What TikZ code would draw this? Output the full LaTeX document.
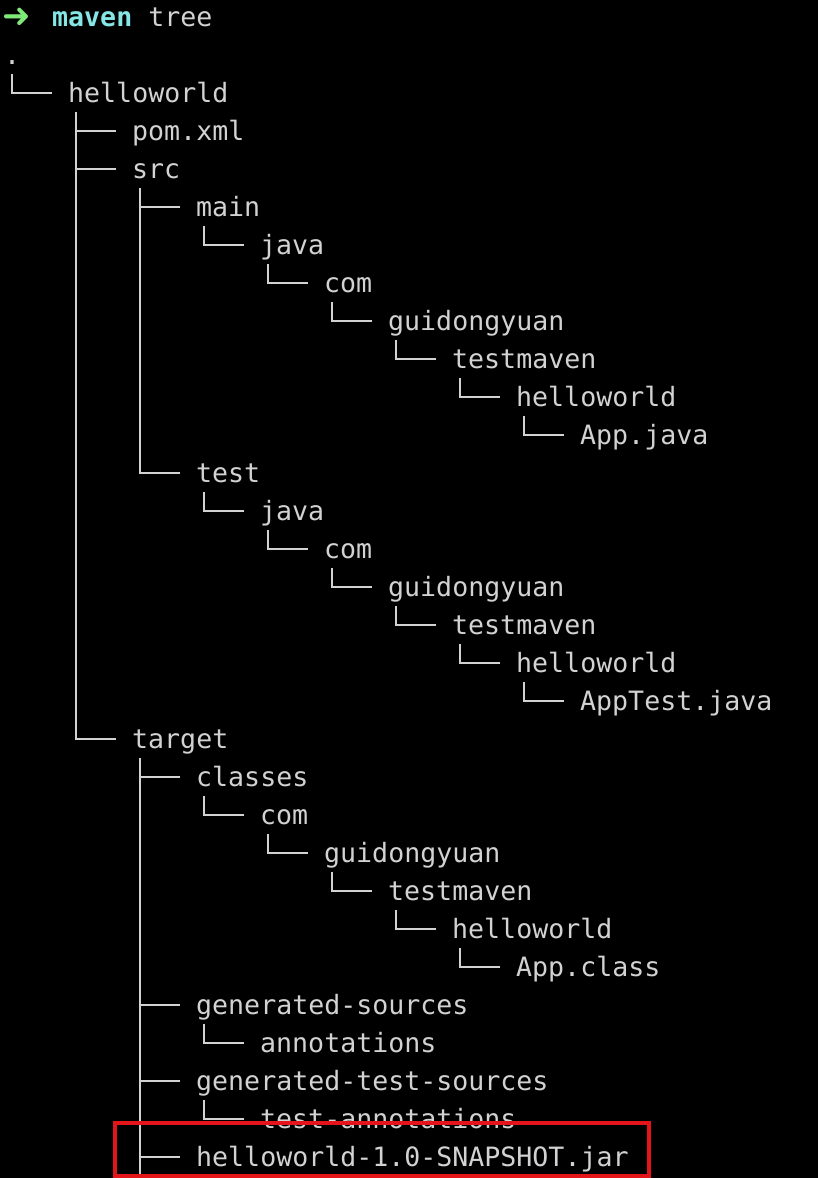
\documentclass[tikz,border=0pt]{standalone}
\usepackage{fontspec}
\usepackage{xcolor}
\usepackage{tikz}
\usetikzlibrary{positioning}
\newfontfamily\termfont{DejaVu Sans Mono}
\newfontfamily\arrowfont{DejaVu Sans}
\definecolor{termgray}{HTML}{D2D2D2}
\definecolor{termcyan}{HTML}{86E6E6}
\definecolor{termgreen}{HTML}{7EE878}
\definecolor{markred}{HTML}{E3151B}
\tikzstyle{entry} = [anchor=west, inner sep=0pt, text height=28pt, text depth=10pt, text=termgray, font={\termfont\fontsize{26.6pt}{38pt}\selectfont}]
\tikzstyle{branch} = [line width=1.6pt, termgray]
\tikzstyle{markbox} = [rectangle, draw=markred, line width=4pt, inner sep=0pt]

\begin{document}
\begin{tikzpicture}[x=1pt, y=-1pt]
    \fill [black] (0,0) rectangle (818,1178);
    \useasboundingbox (0,0) rectangle (818,1178);
    % prompt line
    \node (prompt) [entry, text=termgreen, font={\arrowfont\fontsize{34pt}{38pt}\selectfont}] at (2,18) {➜};
    \node (cmd) [entry] at (52,17) {{\bfseries\color{termcyan}maven} tree};
    % tree
    \node (root) [entry] at (4,55) {.};
    \node (hw) [entry] at (68,93) {helloworld};
    \node (pom) [entry] at (132,131) {pom.xml};
    \node (src) [entry] at (132,169) {src};
    \node (main) [entry] at (196,207) {main};
    \node (mjava) [entry] at (260,245) {java};
    \node (mcom) [entry] at (324,283) {com};
    \node (mgdy) [entry] at (388,321) {guidongyuan};
    \node (mtm) [entry] at (452,359) {testmaven};
    \node (mhw) [entry] at (516,397) {helloworld};
    \node (app) [entry] at (580,435) {App.java};
    \node (test) [entry] at (196,473) {test};
    \node (tjava) [entry] at (260,511) {java};
    \node (tcom) [entry] at (324,549) {com};
    \node (tgdy) [entry] at (388,587) {guidongyuan};
    \node (ttm) [entry] at (452,625) {testmaven};
    \node (thw) [entry] at (516,663) {helloworld};
    \node (apptest) [entry] at (580,701) {AppTest.java};
    \node (target) [entry] at (132,739) {target};
    \node (classes) [entry] at (196,777) {classes};
    \node (ccom) [entry] at (260,815) {com};
    \node (cgdy) [entry] at (324,853) {guidongyuan};
    \node (ctm) [entry] at (388,891) {testmaven};
    \node (chw) [entry] at (452,929) {helloworld};
    \node (appclass) [entry] at (516,967) {App.class};
    \node (gens) [entry] at (196,1005) {generated-sources};
    \node (annot) [entry] at (260,1043) {annotations};
    \node (gents) [entry] at (196,1081) {generated-test-sources};
    \node (tannot) [entry] at (260,1119) {test-annotations};
    \node (jar) [entry] at (196,1157) {helloworld-1.0-SNAPSHOT.jar};
    \coordinate (more) at (140,1178);
    % branches
    \draw [branch] ([xshift=8pt]root.south west) |- ([xshift=-16pt]hw.west);
    \draw [branch] ([xshift=8pt]hw.south west) |- ([xshift=-16pt]pom.west);
    \draw [branch] ([xshift=8pt]hw.south west) |- ([xshift=-16pt]src.west);
    \draw [branch] ([xshift=8pt]hw.south west) |- ([xshift=-16pt]target.west);
    \draw [branch] ([xshift=8pt]src.south west) |- ([xshift=-16pt]main.west);
    \draw [branch] ([xshift=8pt]src.south west) |- ([xshift=-16pt]test.west);
    \draw [branch] ([xshift=8pt]main.south west) |- ([xshift=-16pt]mjava.west);
    \draw [branch] ([xshift=8pt]mjava.south west) |- ([xshift=-16pt]mcom.west);
    \draw [branch] ([xshift=8pt]mcom.south west) |- ([xshift=-16pt]mgdy.west);
    \draw [branch] ([xshift=8pt]mgdy.south west) |- ([xshift=-16pt]mtm.west);
    \draw [branch] ([xshift=8pt]mtm.south west) |- ([xshift=-16pt]mhw.west);
    \draw [branch] ([xshift=8pt]mhw.south west) |- ([xshift=-16pt]app.west);
    \draw [branch] ([xshift=8pt]test.south west) |- ([xshift=-16pt]tjava.west);
    \draw [branch] ([xshift=8pt]tjava.south west) |- ([xshift=-16pt]tcom.west);
    \draw [branch] ([xshift=8pt]tcom.south west) |- ([xshift=-16pt]tgdy.west);
    \draw [branch] ([xshift=8pt]tgdy.south west) |- ([xshift=-16pt]ttm.west);
    \draw [branch] ([xshift=8pt]ttm.south west) |- ([xshift=-16pt]thw.west);
    \draw [branch] ([xshift=8pt]thw.south west) |- ([xshift=-16pt]apptest.west);
    \draw [branch] ([xshift=8pt]target.south west) |- ([xshift=-16pt]classes.west);
    \draw [branch] ([xshift=8pt]target.south west) |- ([xshift=-16pt]gens.west);
    \draw [branch] ([xshift=8pt]target.south west) |- ([xshift=-16pt]gents.west);
    \draw [branch] ([xshift=8pt]target.south west) |- ([xshift=-16pt]jar.west);
    \draw [branch] ([xshift=8pt]target.south west) -- (more);
    \draw [branch] ([xshift=8pt]classes.south west) |- ([xshift=-16pt]ccom.west);
    \draw [branch] ([xshift=8pt]ccom.south west) |- ([xshift=-16pt]cgdy.west);
    \draw [branch] ([xshift=8pt]cgdy.south west) |- ([xshift=-16pt]ctm.west);
    \draw [branch] ([xshift=8pt]ctm.south west) |- ([xshift=-16pt]chw.west);
    \draw [branch] ([xshift=8pt]chw.south west) |- ([xshift=-16pt]appclass.west);
    \draw [branch] ([xshift=8pt]gens.south west) |- ([xshift=-16pt]annot.west);
    \draw [branch] ([xshift=8pt]gents.south west) |- ([xshift=-16pt]tannot.west);
    % highlight
    \node (jarmark) [markbox, minimum width=534.5pt, minimum height=53pt] at (381.75,1149.5) {};
\end{tikzpicture}
\end{document}
